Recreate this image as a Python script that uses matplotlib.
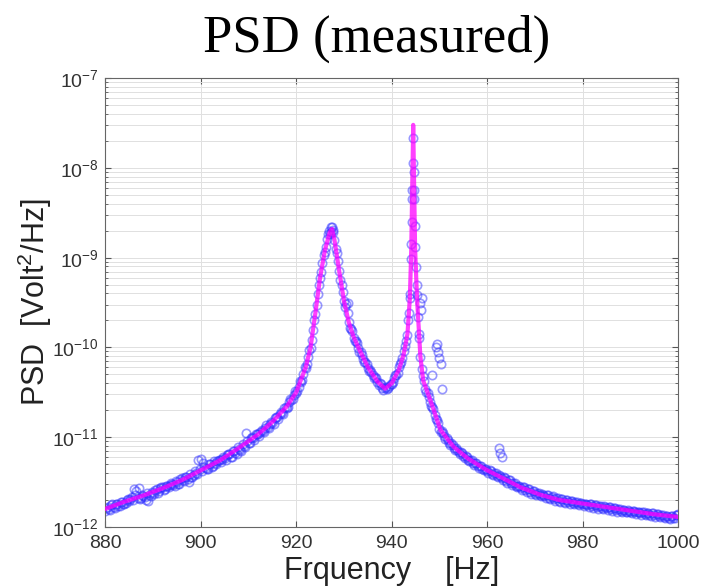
"""
PSD (measured) - recreation of a measured power spectral density plot
with two resonance peaks and a fitted curve on top.
"""

import numpy as np
import matplotlib
matplotlib.use("Agg")
import matplotlib.pyplot as plt

plt.rcParams['font.family'] = ['Liberation Sans', 'DejaVu Sans']
plt.rcParams['mathtext.fontset'] = 'custom'
plt.rcParams['mathtext.rm'] = 'Liberation Sans'
plt.rcParams['mathtext.default'] = 'regular'

meas_start = 880.0
meas_step = 0.5
meas_log = [
    -11.82, -11.78, -11.81, -11.75, -11.79, -11.74, -11.77, -11.72, -11.75, -11.70,  # 880
    -11.71, -11.67, -11.58, -11.60, -11.57, -11.68, -11.66, -11.70, -11.71, -11.66,  # 885
    -11.62, -11.59, -11.62, -11.57, -11.56, -11.58, -11.55, -11.53, -11.52, -11.54,  # 890
    -11.50, -11.52, -11.46, -11.49, -11.45, -11.50, -11.44, -11.42, -11.40, -11.26,  # 895
    -11.24, -11.29, -11.34, -11.36, -11.30, -11.32, -11.29, -11.27, -11.26, -11.24,  # 900
    -11.23, -11.20, -11.19, -11.22, -11.16, -11.19, -11.13, -11.15, -11.10, -10.95,  # 905
    -11.06, -11.01, -11.01, -10.97, -10.97, -10.94, -10.93, -10.90, -10.89, -10.85,  # 910
    -10.84, -10.79, -10.78, -10.74, -10.73, -10.68, -10.67, -10.61, -10.59, -10.53,  # 915
    -10.51, -10.44, -10.39, -10.30, -10.23, -10.11, -10.01, -9.81, -9.63, -9.41,  # 920
    -9.23, -9.06, -8.94, -8.79, -8.74, -8.66, -8.80, -8.95, -9.15, -9.30,  # 925
    -9.48, -9.52, -9.72, -9.79, -9.89, -9.93, -10.01, -10.05, -10.13, -10.16,  # 930
    -10.23, -10.25, -10.31, -10.33, -10.39, -10.40, -10.45, -10.45, -10.46, -10.43,  # 935
    -10.41, -10.34, -10.31, -10.22, -10.16, -10.04, -9.93, -9.69, -9.02, -7.67,  # 940
    -9.10, -9.66, -10.11, -10.32, -10.46, -10.51, -10.61, -10.66, -10.75, -10.81,  # 945
    -10.91, -10.93, -10.99, -11.01, -11.06, -11.07, -11.12, -11.12, -11.17, -11.17,  # 950
    -11.21, -11.21, -11.25, -11.25, -11.29, -11.29, -11.32, -11.32, -11.35, -11.35,  # 955
    -11.38, -11.37, -11.41, -11.40, -11.43, -11.42, -11.46, -11.45, -11.49, -11.48,  # 960
    -11.51, -11.51, -11.54, -11.54, -11.57, -11.56, -11.59, -11.58, -11.61, -11.60,  # 965
    -11.63, -11.62, -11.65, -11.63, -11.66, -11.65, -11.68, -11.67, -11.69, -11.68,  # 970
    -11.71, -11.69, -11.72, -11.70, -11.72, -11.71, -11.73, -11.72, -11.74, -11.73,  # 975
    -11.75, -11.74, -11.76, -11.75, -11.77, -11.76, -11.78, -11.77, -11.79, -11.77,  # 980
    -11.79, -11.78, -11.80, -11.79, -11.81, -11.80, -11.82, -11.81, -11.83, -11.81,  # 985
    -11.83, -11.82, -11.84, -11.83, -11.85, -11.84, -11.86, -11.85, -11.87, -11.85,  # 990
    -11.87, -11.86, -11.88, -11.87, -11.89, -11.88, -11.90, -11.88, -11.90, -11.87,  # 995
    -11.86,  # 1000
]

# second sweep of measured points, shifted by 0.25 Hz (880.25 ... 999.75)
meas2_start = 880.25
meas2_log = [
    -11.79, -11.80, -11.76, -11.78, -11.74, -11.77, -11.72, -11.74, -11.73, -11.69,  # 880
    -11.69, -11.70, -11.64, -11.68, -11.69, -11.64, -11.67, -11.62, -11.65, -11.61,  # 885
    -11.63, -11.58, -11.60, -11.56, -11.59, -11.54, -11.56, -11.51, -11.53, -11.49,  # 890
    -11.52, -11.47, -11.48, -11.44, -11.47, -11.41, -11.44, -11.38, -11.41, -11.35,  # 895
    -11.38, -11.33, -11.36, -11.30, -11.33, -11.27, -11.30, -11.25, -11.28, -11.22,  # 900
    -11.25, -11.19, -11.22, -11.15, -11.18, -11.11, -11.14, -11.08, -11.11, -11.04,  # 905
    -11.06, -11.00, -11.03, -10.96, -10.99, -10.92, -10.94, -10.87, -10.90, -10.83,  # 910
    -10.85, -10.78, -10.80, -10.72, -10.74, -10.66, -10.66, -10.58, -10.58, -10.49,  # 915
    -10.49, -10.38, -10.36, -10.22, -10.19, -10.03, -9.92, -9.70, -9.53, -9.30,  # 920
    -9.16, -8.97, -8.88, -8.74, -8.71, -8.71, -8.90, -9.04, -9.25, -9.38,  # 925
    -9.55, -9.62, -9.78, -9.82, -9.93, -9.95, -10.05, -10.08, -10.16, -10.18,  # 930
    -10.26, -10.27, -10.34, -10.34, -10.42, -10.41, -10.47, -10.44, -10.45, -10.41,  # 935
    -10.39, -10.31, -10.28, -10.18, -10.12, -9.98, -9.86, -9.45, -8.35, -8.25,  # 940
    -9.42, -9.90, -10.24, -10.38, -10.50, -10.55, -10.65, -10.69, -10.80, -10.84,  # 945
    -10.94, -10.95, -11.02, -11.03, -11.09, -11.09, -11.14, -11.14, -11.19, -11.18,  # 950
    -11.23, -11.22, -11.27, -11.26, -11.31, -11.29, -11.34, -11.32, -11.37, -11.35,  # 955
    -11.40, -11.38, -11.42, -11.40, -11.45, -11.43, -11.48, -11.46, -11.51, -11.48,  # 960
    -11.53, -11.51, -11.56, -11.54, -11.59, -11.56, -11.61, -11.58, -11.63, -11.60,  # 965
    -11.65, -11.62, -11.66, -11.64, -11.68, -11.65, -11.69, -11.66, -11.71, -11.68,  # 970
    -11.72, -11.69, -11.73, -11.70, -11.74, -11.71, -11.75, -11.72, -11.76, -11.73,  # 975
    -11.77, -11.74, -11.78, -11.75, -11.79, -11.76, -11.80, -11.77, -11.80, -11.78,  # 980
    -11.81, -11.78, -11.82, -11.79, -11.83, -11.80, -11.84, -11.81, -11.84, -11.82,  # 985
    -11.85, -11.82, -11.86, -11.83, -11.87, -11.84, -11.87, -11.85, -11.88, -11.85,  # 990
    -11.89, -11.86, -11.89, -11.87, -11.90, -11.88, -11.91, -11.88, -11.90, -11.87,  # 995
]

# extra measured points on the narrow peak and the scattered outliers
extra_freq = [926.8, 927.2, 927.7, 930.9, 943.6, 943.8, 944.1, 944.2, 944.3,
              944.4, 944.6, 944.7, 944.8, 944.9, 945.2, 945.7, 946.0, 946.2,
              946.4, 948.5, 949.2, 949.5, 949.8, 950.0, 950.3, 950.6, 962.5,
              962.7, 963.0]
extra_log = [-8.70, -8.66, -8.69, -9.51, -9.62, -9.40, -8.85, -8.60, -8.25,
             -7.95, -8.05, -8.35, -8.65, -8.88, -9.30, -9.85, -9.50, -9.58,
             -9.45, -10.31, -10.00, -9.96, -10.05, -10.12, -10.18, -10.46, -11.12,
             -11.18, -11.22]

# fitted curve (magenta), log10(PSD)
fit_freq = [880, 884, 888, 892, 896, 900, 904, 908, 912, 915, 918, 920, 922,
            923, 924, 925, 926, 927, 927.5, 928, 929, 930, 931, 932, 933, 935,
            937, 938.6, 940, 941.5, 942.5, 943.3, 943.8, 944.1, 944.3, 944.5,
            944.7, 944.9, 945.3, 946, 946.6, 948.5, 950.2, 953, 956, 960, 963,
            967, 971, 975, 980, 985, 990, 995, 1000]
fit_log = [-11.80, -11.72, -11.65, -11.57, -11.48, -11.37, -11.26, -11.12,
           -10.97, -10.83, -10.66, -10.50, -10.22, -10.00, -9.62, -9.22, -8.92,
           -8.72, -8.68, -8.80, -9.15, -9.48, -9.72, -9.88, -10.00, -10.22,
           -10.38, -10.46, -10.40, -10.25, -10.08, -9.85, -9.45, -8.90, -8.20,
           -7.52, -8.20, -8.90, -9.45, -10.10, -10.37, -10.65, -10.92, -11.11,
           -11.24, -11.37, -11.45, -11.56, -11.64, -11.70, -11.74, -11.78,
           -11.82, -11.86, -11.89]


def main():
    meas_freq = meas_start + meas_step * np.arange(len(meas_log))
    meas2_freq = meas2_start + meas_step * np.arange(len(meas2_log))
    fit_psd = 10.0 ** np.array(fit_log)

    fig = plt.figure(figsize=(7.02, 5.88), dpi=100)
    ax = fig.add_axes([0.150, 0.104, 0.816, 0.763])

    # measured points: open blue circles
    mkw = dict(ls='none', marker='o', ms=6.0, mfc='none', mec='#3030ff',
               mew=1.2, alpha=0.5, zorder=2)
    ax.plot(meas_freq, 10.0 ** np.array(meas_log), **mkw)
    ax.plot(meas2_freq, 10.0 ** np.array(meas2_log), **mkw)
    ax.plot(extra_freq, 10.0 ** np.array(extra_log), **mkw)
    # fit on top
    ax.plot(fit_freq, fit_psd, color='#ff00ff', lw=3.0, alpha=0.75, zorder=3)

    ax.set_yscale('log')
    ax.set_xlim(880, 1000)
    ax.set_ylim(1e-12, 1e-7)
    ax.set_xticks(np.arange(880, 1001, 20))
    ax.minorticks_off()
    ax.yaxis.set_minor_locator(matplotlib.ticker.LogLocator(
        base=10, subs=np.arange(2, 10), numticks=20))
    ax.yaxis.set_minor_formatter(matplotlib.ticker.NullFormatter())

    ax.grid(True, which='both', color='#e0e0e0', lw=0.7)
    ax.set_axisbelow(True)
    ax.tick_params(which='both', direction='in', top=True, right=True,
                   colors='#555555', labelcolor='#333333', labelsize=14)
    ax.tick_params(which='major', length=4)
    ax.tick_params(which='minor', length=2)
    ax.tick_params(axis='x', pad=6)
    ax.tick_params(axis='y', pad=5)
    for s in ax.spines.values():
        s.set_color('#666666')
        s.set_linewidth(0.8)

    ax.set_xlabel('Frquency    [Hz]', fontsize=22, color='#222222')
    ax.set_ylabel('PSD  [Volt$^2$/Hz]', fontsize=22, color='#222222')
    ax.xaxis.set_label_coords(0.5, -0.064)
    ax.yaxis.set_label_coords(-0.09, 0.5)

    fig.text(0.537, 0.912, 'PSD (measured)', ha='center', va='baseline',
             fontsize=38, family='Liberation Serif')

    fig.savefig('out.png', dpi=100)


if __name__ == "__main__":
    main()
